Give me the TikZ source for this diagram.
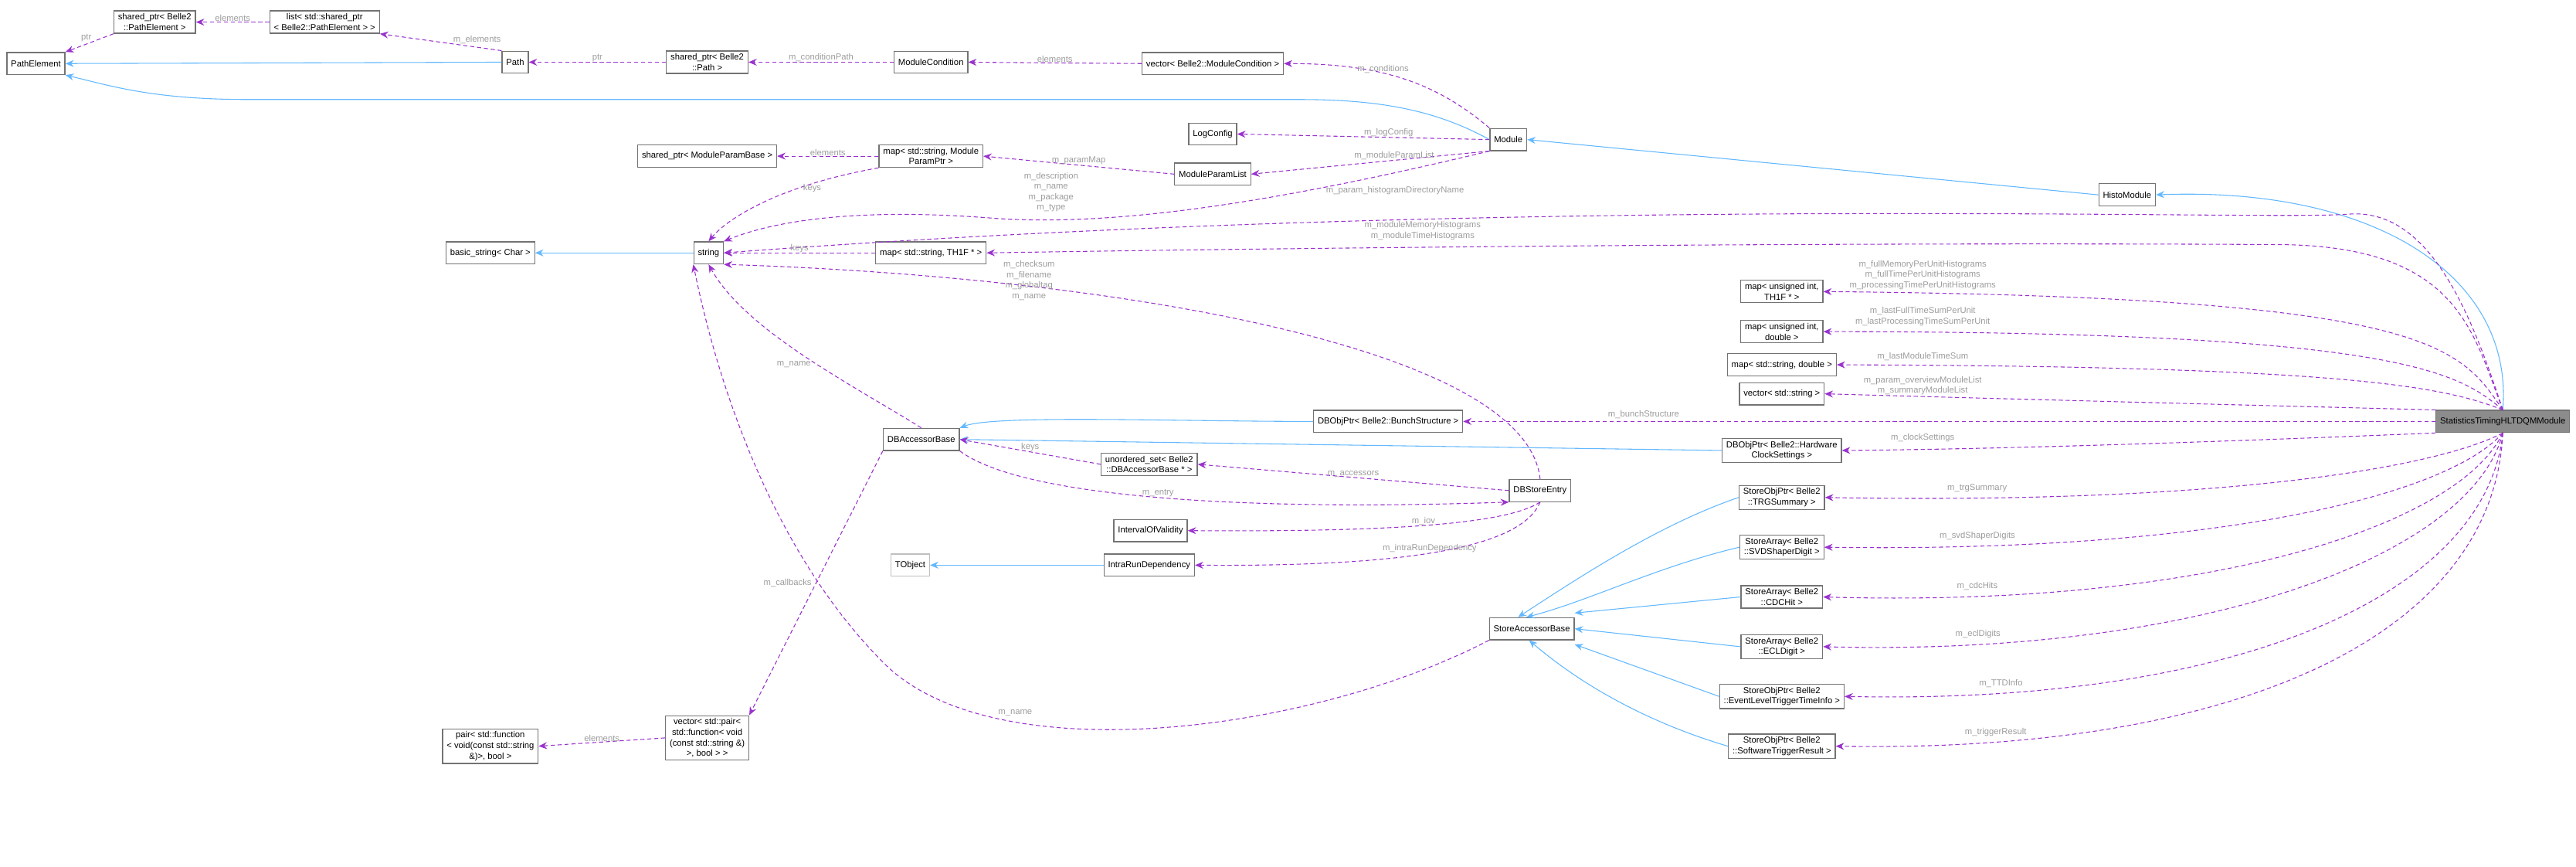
\documentclass[tikz,border=0pt]{standalone}
\usepackage{fontspec}
\setmainfont{Liberation Sans}
\usetikzlibrary{arrows.meta}
\definecolor{inhc}{HTML}{63B8FF}
\definecolor{usec}{HTML}{9A32CD}
\definecolor{lblc}{HTML}{9C9C9C}
\begin{document}
\begin{tikzpicture}[x=1pt,y=-1pt,
  every node/.style={font=\fontsize{6.3}{7.6}\selectfont},
  cls/.style={draw=black!55,line width=0.7pt,fill=white,inner xsep=3pt,inner ysep=2pt,minimum height=16pt,align=center},
  inh/.style={draw=inhc,line width=0.6pt,-{Stealth[length=6pt,width=5pt]}},
  use/.style={draw=usec,line width=0.6pt,dash pattern=on 3pt off 2pt,-{Stealth[length=6pt,width=5pt]}},
  lbl/.style={text=lblc,align=center,inner sep=0pt}]
\useasboundingbox (0,0) rectangle (1865,627);
% nodes
\node[cls] (pe) at (26,46) {PathElement};
\node[cls] (spe) at (112,16) {shared\_ptr< Belle2\\::PathElement >};
\node[cls] (lst) at (235,16) {list< std::shared\_ptr\\< Belle2::PathElement > >};
\node[cls] (path) at (373,45) {Path};
\node[cls] (sp) at (512,45) {shared\_ptr< Belle2\\::Path >};
\node[cls] (mc) at (674,45) {ModuleCondition};
\node[cls] (vmc) at (878,46) {vector< Belle2::ModuleCondition >};
\node[cls] (spmpb) at (512,113) {shared\_ptr< ModuleParamBase >};
\node[cls] (mpm) at (674,113) {map< std::string, Module\\ParamPtr >};
\node[cls] (lc) at (878,97) {LogConfig};
\node[cls] (mpl) at (878,126) {ModuleParamList};
\node[cls] (mod) at (1092,101) {Module};
\node[cls] (histo) at (1540,141) {HistoModule};
\node[cls] (bs) at (355,183) {basic\_string< Char >};
\node[cls] (str) at (513,183) {string};
\node[cls] (mth) at (674,183) {map< std::string, TH1F * >};
\node[cls] (mu1) at (1290,211) {map< unsigned int,\\TH1F * >};
\node[cls] (mu2) at (1290,240) {map< unsigned int,\\double >};
\node[cls] (msd) at (1290,264) {map< std::string, double >};
\node[cls] (vs) at (1290,285) {vector< std::string >};
\node[cls,fill=black!45] (main) at (1812,305) {StatisticsTimingHLTDQMModule};
\node[cls] (bunch) at (1005,305) {DBObjPtr< Belle2::BunchStructure >};
\node[cls] (clk) at (1290,326) {DBObjPtr< Belle2::Hardware\\ClockSettings >};
\node[cls] (dba) at (667,318) {DBAccessorBase};
\node[cls] (us) at (832,336) {unordered\_set< Belle2\\::DBAccessorBase * >};
\node[cls] (dbe) at (1115,355) {DBStoreEntry};
\node[cls] (trg) at (1290,360) {StoreObjPtr< Belle2\\::TRGSummary >};
\node[cls] (iov) at (833,384) {IntervalOfValidity};
\node[cls,draw=black!25] (tobj) at (659,409) {TObject};
\node[cls] (ird) at (832,409) {IntraRunDependency};
\node[cls] (svd) at (1290,396) {StoreArray< Belle2\\::SVDShaperDigit >};
\node[cls] (cdc) at (1290,432) {StoreArray< Belle2\\::CDCHit >};
\node[cls] (sab) at (1109,455) {StoreAccessorBase};
\node[cls] (ecl) at (1290,468) {StoreArray< Belle2\\::ECLDigit >};
\node[cls] (ttd) at (1290,504) {StoreObjPtr< Belle2\\::EventLevelTriggerTimeInfo >};
\node[cls] (swt) at (1290,540) {StoreObjPtr< Belle2\\::SoftwareTriggerResult >};
\node[cls] (vp) at (512,534) {vector< std::pair<\\std::function< void\\(const std::string \&)\\>, bool > >};
\node[cls] (pr) at (355,540) {pair< std::function\\< void(const std::string\\\&)>, bool >};
% inheritance
\draw[inh] (path.west) -- (pe.east);
\draw[inh] (mod.west) .. controls (1040,80) and (1000,72) .. (940,72) -- (180,72) .. controls (110,72) and (80,62) .. (pe.south east);
\draw[inh] (histo.west) -- (mod.east);
\draw[inh] (main.north) .. controls (1820,200) and (1720,135) .. (histo.east);
\draw[inh] (str.west) -- (bs.east);
\draw[inh] (bunch.west) .. controls (850,305) and (720,300) .. (dba.north east);
\draw[inh] (clk.west) -- (dba.east);
\draw[inh] (ird.west) -- (tobj.east);
\draw[inh] (trg.west) .. controls (1200,380) and (1140,420) .. ([xshift=-10pt]sab.north);
\draw[inh] (svd.west) .. controls (1200,410) and (1150,435) .. ([xshift=-4pt]sab.north);
\draw[inh] (cdc.west) -- ([yshift=3pt]sab.north east);
\draw[inh] (ecl.west) -- (sab.east);
\draw[inh] (ttd.west) -- ([yshift=-3pt]sab.south east);
\draw[inh] (swt.west) .. controls (1200,525) and (1150,500) .. ([xshift=-2pt]sab.south);
% usage
\draw[use] (spe.south west) -- node[lbl,pos=0.45,above left]{ptr} (pe.north east);
\draw[use] (lst.west) -- node[lbl,above]{elements} (spe.east);
\draw[use] (path.north west) -- node[lbl,pos=0.4,above right]{m\_elements} (lst.south east);
\draw[use] (sp.west) -- node[lbl,above]{ptr} (path.east);
\draw[use] (mc.west) -- node[lbl,above]{m\_conditionPath} (sp.east);
\draw[use] (vmc.west) -- node[lbl,above]{elements} (mc.east);
\draw[use] (mod.north west) .. controls (1040,60) and (1000,46) .. node[lbl,pos=0.6,above]{m\_conditions} (vmc.east);
\draw[use] (mpm.west) -- node[lbl,above]{elements} (spmpb.east);
\draw[use] (mpm.south west) .. controls (560,135) and (525,160) .. node[lbl,pos=0.3,right=3pt]{keys} (str.north);
\draw[use] (mpl.west) -- node[lbl,above]{m\_paramMap} (mpm.east);
\draw[use] (mod.west) -- node[lbl,pos=0.4,above]{m\_logConfig} (lc.east);
\draw[use] (mod.south west) -- node[lbl,pos=0.4,above]{m\_moduleParamList} (mpl.east);
\draw[use] (mod.south west) .. controls (950,140) and (820,165) .. (720,158) .. controls (620,150) and (560,160) .. (str.north east);
\node[lbl] at (761,139) {m\_description\\m\_name\\m\_package\\m\_type};
\draw[use] (main.north) .. controls (1790,230) and (1760,150) .. (1700,155) .. controls (1640,160) and (1100,140) .. (str.east);
\node[lbl] at (1010,138) {m\_param\_histogramDirectoryName};
\draw[use] (mth.west) -- node[lbl,above]{keys} (str.east);
\draw[use] (main.north) .. controls (1790,240) and (1780,178) .. (1650,177) .. controls (1300,175) and (900,180) .. (mth.east);
\node[lbl] at (1030,167) {m\_moduleMemoryHistograms\\m\_moduleTimeHistograms};
\draw[use] (main.north) .. controls (1780,250) and (1760,215) .. (mu1.east);
\node[lbl] at (1392,199) {m\_fullMemoryPerUnitHistograms\\m\_fullTimePerUnitHistograms\\m\_processingTimePerUnitHistograms};
\draw[use] (main.north) .. controls (1780,270) and (1740,240) .. (mu2.east);
\node[lbl] at (1392,229) {m\_lastFullTimeSumPerUnit\\m\_lastProcessingTimeSumPerUnit};
\draw[use] (main.north) .. controls (1770,280) and (1700,265) .. (msd.east);
\node[lbl] at (1392,258) {m\_lastModuleTimeSum};
\draw[use] (main.north west) .. controls (1700,295) and (1500,290) .. (vs.east);
\node[lbl] at (1392,279) {m\_param\_overviewModuleList\\m\_summaryModuleList};
\draw[use] (main.west) -- (bunch.east);
\node[lbl] at (1190,300) {m\_bunchStructure};
\draw[use] (main.south west) .. controls (1600,320) and (1450,325) .. (clk.east);
\node[lbl] at (1392,317) {m\_clockSettings};
\draw[use] (main.south) .. controls (1760,340) and (1600,365) .. node[lbl,pos=0.86,above=4pt]{m\_trgSummary} (trg.east);
\draw[use] (main.south) .. controls (1770,360) and (1600,400) .. node[lbl,pos=0.86,above=4pt]{m\_svdShaperDigits} (svd.east);
\draw[use] (main.south) .. controls (1780,380) and (1600,440) .. node[lbl,pos=0.86,above=4pt]{m\_cdcHits} (cdc.east);
\draw[use] (main.south) .. controls (1790,400) and (1600,475) .. node[lbl,pos=0.86,above=4pt]{m\_eclDigits} (ecl.east);
\draw[use] (main.south) .. controls (1800,430) and (1620,510) .. node[lbl,pos=0.86,above=4pt]{m\_TTDInfo} (ttd.east);
\draw[use] (main.south) .. controls (1805,460) and (1620,545) .. node[lbl,pos=0.86,above=4pt]{m\_triggerResult} (swt.east);
\draw[use] (dbe.north) .. controls (1105,250) and (800,200) .. (str.south east);
\node[lbl] at (745,203) {m\_checksum\\m\_filename\\m\_globaltag\\m\_name};
\draw[use] (dba.north) .. controls (620,280) and (540,240) .. node[lbl,pos=0.45,left=4pt]{m\_name} (str.south);
\draw[use] (sab.south west) .. controls (950,530) and (720,560) .. (640,480) .. controls (560,400) and (520,280) .. (str.south west);
\node[lbl] at (735,516) {m\_name};
\draw[use] (dba.south west) -- node[lbl,pos=0.5,left=3pt]{m\_callbacks} (vp.north east);
\draw[use] (vp.west) -- node[lbl,above]{elements} (pr.east);
\draw[use] (us.west) -- node[lbl,above]{keys} (dba.east);
\draw[use] (dbe.west) -- node[lbl,above]{m\_accessors} (us.east);
\draw[use] (dba.south east) .. controls (740,360) and (900,370) .. node[lbl,above]{m\_entry} (dbe.south west);
\draw[use] (dbe.south) .. controls (1090,380) and (1000,385) .. node[lbl,above]{m\_iov} (iov.east);
\draw[use] (dbe.south) .. controls (1100,400) and (1000,410) .. node[lbl,above]{m\_intraRunDependency} (ird.east);
\end{tikzpicture}
\end{document}
